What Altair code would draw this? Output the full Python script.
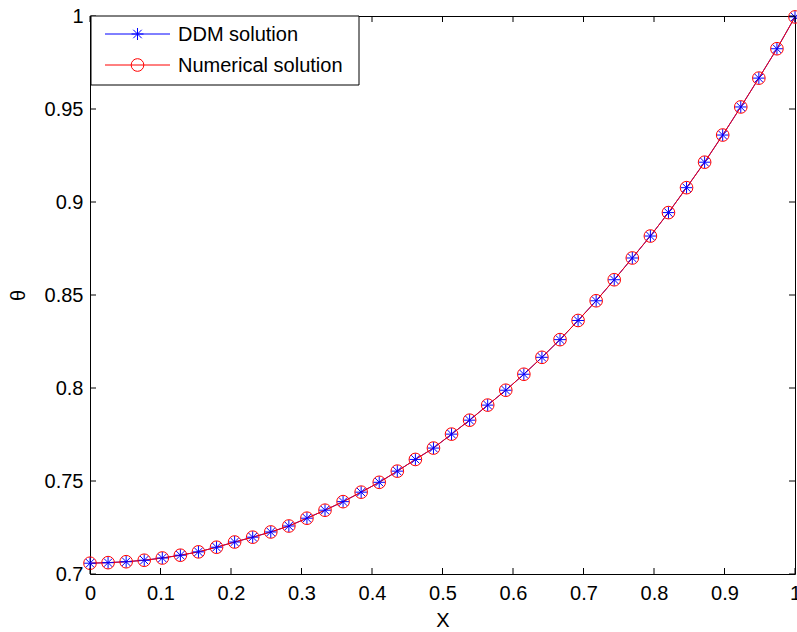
import altair as alt
import pandas as pd

# ---- data ----
n_points = 40
x_vals = [i / 39 for i in range(n_points)]
ddm_theta = [0.7058, 0.7061, 0.7066, 0.7074, 0.7086, 0.7101, 0.7119, 0.7144, 0.7172, 0.7198,
             0.7226, 0.7258, 0.7300, 0.7343, 0.7389, 0.7440, 0.7493, 0.7553, 0.7616, 0.7677,
             0.7752, 0.7827, 0.7908, 0.7988, 0.8074, 0.8165, 0.8260, 0.8363, 0.8469, 0.8582,
             0.8699, 0.8817, 0.8943, 0.9077, 0.9214, 0.9360, 0.9511, 0.9666, 0.9824, 0.9995]
num_theta = [0.7058, 0.7061, 0.7066, 0.7074, 0.7086, 0.7101, 0.7119, 0.7144, 0.7172, 0.7198,
             0.7226, 0.7258, 0.7300, 0.7343, 0.7389, 0.7440, 0.7493, 0.7553, 0.7616, 0.7677,
             0.7752, 0.7827, 0.7908, 0.7988, 0.8074, 0.8165, 0.8260, 0.8363, 0.8469, 0.8582,
             0.8699, 0.8817, 0.8943, 0.9077, 0.9214, 0.9360, 0.9511, 0.9666, 0.9824, 0.9995]
series_names = ["DDM solution", "Numerical solution"]
x_ticks = [0, 0.1, 0.2, 0.3, 0.4, 0.5, 0.6, 0.7, 0.8, 0.9, 1.0]
y_ticks = [0.7, 0.75, 0.8, 0.85, 0.9, 0.95, 1.0]

BLUE = "#0000FF"
RED = "#FF0000"
W, H = 705, 558
FONT = "Liberation Sans"
ASTERISK = "M-1,0L1,0M0,-1L0,1M-0.707,-0.707L0.707,0.707M-0.707,0.707L0.707,-0.707"

ddm_df = pd.DataFrame({"x": x_vals, "theta": ddm_theta})
num_df = pd.DataFrame({"x": x_vals, "theta": num_theta})
xt_df = pd.DataFrame({"v": x_ticks})
yt_df = pd.DataFrame({"v": y_ticks})
one = pd.DataFrame({"k": [0]})

xscale = alt.Scale(domain=[0, 1], nice=False, zero=False)
yscale = alt.Scale(domain=[0.7, 1.0], nice=False, zero=False)

X = alt.X("x:Q", scale=xscale,
          axis=alt.Axis(values=x_ticks, format="~g", ticks=False, domain=False, grid=False,
                        labelFlush=False, labelOverlap=False, labelPadding=9,
                        title="X", titleY=46, titleBaseline="middle",
                        labelFontSize=20, titleFontSize=20, titleFontWeight="normal"))
Y = alt.Y("theta:Q", scale=yscale,
          axis=alt.Axis(values=y_ticks, format="~g", ticks=False, domain=False, grid=False,
                        labelFlush=False, labelOverlap=False, labelPadding=7,
                        title="θ", titleX=-72, titleY=H / 2, titleAngle=-90,
                        titleBaseline="middle", titleAlign="center",
                        labelFontSize=20, titleFontSize=20, titleFontWeight="normal"))

ddm_line = alt.Chart(ddm_df).mark_line(color=BLUE, strokeWidth=1).encode(x=X, y=Y)
num_line = alt.Chart(num_df).mark_line(color=RED, strokeWidth=1).encode(
    x=alt.X("x:Q", scale=xscale), y=alt.Y("theta:Q", scale=yscale))
ddm_pts = alt.Chart(ddm_df).mark_point(shape=ASTERISK, color=BLUE, size=144, strokeWidth=1,
                                        filled=False, opacity=1).encode(
    x=alt.X("x:Q", scale=xscale), y=alt.Y("theta:Q", scale=yscale))
num_pts = alt.Chart(num_df).mark_point(shape="circle", color=RED, size=160, strokeWidth=1,
                                        filled=False, opacity=1).encode(
    x=alt.X("x:Q", scale=xscale), y=alt.Y("theta:Q", scale=yscale))

# inner ticks on all four sides
tick_len = 6
xt_bottom = alt.Chart(xt_df).mark_rule(color="black", strokeWidth=1).encode(
    x=alt.X("v:Q", scale=xscale), y=alt.value(H), y2=alt.value(H - tick_len))
xt_top = alt.Chart(xt_df).mark_rule(color="black", strokeWidth=1).encode(
    x=alt.X("v:Q", scale=xscale), y=alt.value(0), y2=alt.value(tick_len))
yt_left = alt.Chart(yt_df).mark_rule(color="black", strokeWidth=1).encode(
    y=alt.Y("v:Q", scale=yscale), x=alt.value(0), x2=alt.value(tick_len))
yt_right = alt.Chart(yt_df).mark_rule(color="black", strokeWidth=1).encode(
    y=alt.Y("v:Q", scale=yscale), x=alt.value(W - tick_len), x2=alt.value(W))

# legend box (manual, MATLAB style)
leg_box = alt.Chart(one).mark_rect(fill="white", stroke="black", strokeWidth=1).encode(
    x=alt.value(1), x2=alt.value(269), y=alt.value(0), y2=alt.value(69))
leg_layers = [leg_box]
leg_rows = [(series_names[0], BLUE, ASTERISK, 144, 18), (series_names[1], RED, "circle", 160, 49)]
for name, col, shp, sz, ly in leg_rows:
    d = pd.DataFrame({"label": [name]})
    leg_layers.append(alt.Chart(d).mark_rule(color=col, strokeWidth=1).encode(
        x=alt.value(15), x2=alt.value(80), y=alt.value(ly)))
    leg_layers.append(alt.Chart(d).mark_point(shape=shp, color=col, size=sz, filled=False,
                                              strokeWidth=1, opacity=1).encode(
        x=alt.value(47.5), y=alt.value(ly)))
    leg_layers.append(alt.Chart(d).mark_text(align="left", baseline="middle", fontSize=20,
                                             font=FONT, color="black").encode(
        x=alt.value(88), y=alt.value(ly + 1), text="label:N"))

chart = alt.layer(
    ddm_line, num_line, ddm_pts, num_pts,
    xt_bottom, xt_top, yt_left, yt_right,
    *leg_layers
).properties(
    width=W, height=H,
    padding={"left": 90, "top": 16, "right": 2, "bottom": 58},
    autosize=alt.AutoSizeParams(type="none"),
    background="white",
).configure_view(
    stroke="black", strokeWidth=1, clip=False
).configure_axis(
    labelFont=FONT, titleFont=FONT, labelColor="black", titleColor="black"
)

chart.save("out.html", embed_options={"renderer": "svg", "actions": False})
